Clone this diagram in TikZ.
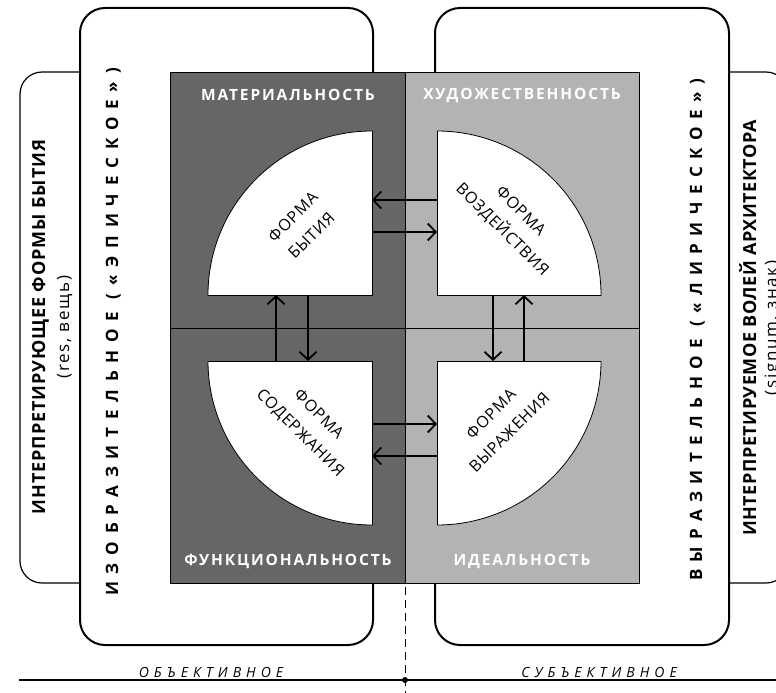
\documentclass[tikz,border=0pt]{standalone}
\usepackage{fontspec}
\setmainfont{Open Sans}
\usetikzlibrary{arrows.meta}
\definecolor{darkq}{RGB}{102,102,102}
\definecolor{lightq}{RGB}{179,179,179}
\begin{document}
\begin{tikzpicture}[x=1pt,y=-1pt,
  bigbox/.style={draw=black, line width=2pt, fill=white, rounded corners=25pt},
  sidebox/.style={draw=black, line width=1.2pt, fill=white, rounded corners=22pt},
  quadline/.style={draw=black, line width=0.8pt},
  sector/.style={fill=white, draw=black, line width=0.8pt},
  edgeline/.style={draw=black, line width=0.8pt},
  link/.style={line width=1.8pt, -{Straight Barb[length=8pt,width=17pt,line width=1.8pt]}},
  qlabel/.style={inner sep=0pt, text=white, font=\fontsize{15.5}{18}\bfseries\addfontfeatures{LetterSpace=12}},
  formlabel/.style={inner sep=0pt, align=center, font=\fontsize{16}{26}\addfontfeatures{LetterSpace=5}},
  spacedlabel/.style={inner sep=0pt, rotate=90, anchor=base, font=\fontsize{17}{20}\bfseries\addfontfeatures{LetterSpace=46}},
  spacedlabelr/.style={inner sep=0pt, rotate=90, anchor=base, font=\fontsize{17}{20}\bfseries\addfontfeatures{LetterSpace=44}},
  sidelabel/.style={inner sep=0pt, rotate=90, anchor=base, font=\fontsize{18}{21}\bfseries\addfontfeatures{LetterSpace=5}},
  sidelabelr/.style={inner sep=0pt, rotate=90, anchor=base, font=\fontsize{18}{21}\bfseries\addfontfeatures{LetterSpace=3}},
  sidesub/.style={inner sep=0pt, rotate=90, anchor=base, font=\fontsize{17}{20}\addfontfeatures{LetterSpace=10}},
  baselabel/.style={inner sep=0pt, anchor=base, font=\fontsize{14}{16}\itshape\addfontfeatures{LetterSpace=36}}
]
\useasboundingbox (0,0) rectangle (776,693);

% side boxes (behind)
\draw[sidebox] (20,72) rectangle (110,583);
\draw[sidebox] (700,72) rectangle (788,583);

% big boxes
\draw[bigbox] (80,8) rectangle (373,645);
\draw[bigbox] (435,8) rectangle (729,645);

% quadrants
\fill[darkq] (170,72) rectangle (405,583);
\fill[lightq] (405,72) rectangle (639,583);
\draw[quadline] (170,72) rectangle (639,583);
\draw[quadline] (170,328) -- (639,328);
\draw[quadline] (405,72) -- (405,583);

% sectors
\coordinate (ctl) at (372,295);
\coordinate (ctr) at (437,295);
\coordinate (cbl) at (372,361);
\coordinate (cbr) at (437,361);
\begin{scope}\clip (200,120) rectangle (372,295); \draw[sector] (ctl) circle[radius=164pt]; \end{scope}
\draw[edgeline] (208,295) -- (ctl) -- (372,131);
\begin{scope}\clip (437,120) rectangle (612,295); \draw[sector] (ctr) circle[radius=164pt]; \end{scope}
\draw[edgeline] (601,295) -- (ctr) -- (437,131);
\begin{scope}\clip (200,361) rectangle (372,535); \draw[sector] (cbl) circle[radius=164pt]; \end{scope}
\draw[edgeline] (208,361) -- (cbl) -- (372,525);
\begin{scope}\clip (437,361) rectangle (612,535); \draw[sector] (cbr) circle[radius=164pt]; \end{scope}
\draw[edgeline] (601,361) -- (cbr) -- (437,525);

% arrow end points
\coordinate (t1r) at (437,200); \coordinate (t1l) at (372,200);
\coordinate (t2l) at (372,232); \coordinate (t2r) at (437,232);
\coordinate (l1b) at (276,361); \coordinate (l1t) at (276,295);
\coordinate (l2t) at (308,295); \coordinate (l2b) at (308,361);
\coordinate (b1l) at (372,424); \coordinate (b1r) at (437,424);
\coordinate (b2r) at (437,456); \coordinate (b2l) at (372,456);
\coordinate (r1t) at (493,295); \coordinate (r1b) at (493,361);
\coordinate (r2b) at (524,361); \coordinate (r2t) at (524,295);
\draw[link] (t1r) -- (t1l);
\draw[link] (t2l) -- (t2r);
\draw[link] (l1b) -- (l1t);
\draw[link] (l2t) -- (l2b);
\draw[link] (b1l) -- (b1r);
\draw[link] (b2r) -- (b2l);
\draw[link] (r1t) -- (r1b);
\draw[link] (r2b) -- (r2t);

% quadrant labels
\node[qlabel] (qtl) at (288,95) {МАТЕРИАЛЬНОСТЬ};
\node[qlabel] (qtr) at (522,95) {ХУДОЖЕСТВЕННОСТЬ};
\node[qlabel] (qbl) at (288,561) {ФУНКЦИОНАЛЬНОСТЬ};
\node[qlabel] (qbr) at (522,561) {ИДЕАЛЬНОСТЬ};

% form labels
\node[formlabel, rotate=45] (ftl) at (302,226) {ФОРМА\\БЫТИЯ};
\node[formlabel, rotate=-45] (ftr) at (511,221) {ФОРМА\\ВОЗДЕЙСТВИЯ};
\node[formlabel, rotate=-45] (fbl) at (309,424) {ФОРМА\\СОДЕРЖАНИЯ};
\node[formlabel, rotate=45] (fbr) at (500,423) {ФОРМА\\ВЫРАЖЕНИЯ};

% vertical labels
\node[spacedlabel] (vl) at (118,332) {ИЗОБРАЗИТЕЛЬНОЕ («ЭПИЧЕСКОЕ»)};
\node[spacedlabelr] (vr) at (702,330) {ВЫРАЗИТЕЛЬНОЕ («ЛИРИЧЕСКОЕ»)};
\node[sidelabel] (sl) at (45,327) {ИНТЕРПРЕТИРУЮЩЕЕ ФОРМЫ БЫТИЯ};
\node[sidesub] (sls) at (69,327) {(res, вещь)};
\node[sidelabelr] (sr) at (756,328) {ИНТЕРПРЕТИРУЕМОЕ ВОЛЕЙ АРХИТЕКТОРА};
\node[sidesub] (srs) at (777,328) {(signum, знак)};

% base line
\coordinate (bl) at (19,680);
\coordinate (br) at (776,680);
\coordinate (dtop) at (405,583);
\coordinate (dbot) at (405,693);
\coordinate (dot) at (405,680);
\draw[line width=1.2pt] (bl) -- (br);
\draw[line width=1pt, dash pattern=on 8pt off 5pt, dash phase=-4pt] (dtop) -- (dbot);
\fill (dot) circle[radius=3pt];
\node[baselabel] (obj) at (211,677) {ОБЪЕКТИВНОЕ};
\node[baselabel] (subj) at (599,677) {СУБЪЕКТИВНОЕ};
\end{tikzpicture}
\end{document}
